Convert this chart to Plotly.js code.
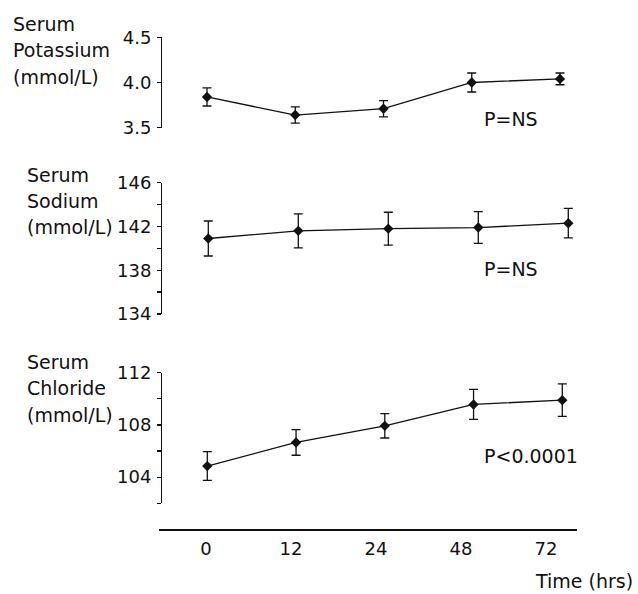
<!DOCTYPE html>
<html>
<head>
<meta charset="utf-8">
<script src="https://cdn.plot.ly/plotly-3.0.1.min.js"></script>
<style>html,body{margin:0;padding:0;background:#fff;}#chart{width:638px;height:594px;}</style>
</head>
<body>
<div id="chart"></div>
<script>
// Data
const timeLabels = ['0', '12', '24', '48', '72'];
const potassiumMean = [3.84, 3.64, 3.71, 4.00, 4.04];
const potassiumErr  = [0.10, 0.09, 0.09, 0.105, 0.065];
const sodiumMean = [140.9, 141.6, 141.8, 141.9, 142.3];
const sodiumErr  = [1.6, 1.55, 1.5, 1.45, 1.35];
const chlorideMean = [104.85, 106.66, 107.93, 109.57, 109.9];
const chlorideErr  = [1.1, 0.98, 0.93, 1.15, 1.25];
const potassiumTitle = ['Serum', 'Potassium', '(mmol/L)'];
const sodiumTitle = ['Serum', 'Sodium', '(mmol/L)'];
const chlorideTitle = ['Serum', 'Chloride', '(mmol/L)'];
const pLabels = ['P=NS', 'P=NS', 'P<0.0001'];
const xTitle = 'Time (hrs)';

const FONT = 'DejaVu Sans, Arial, sans-serif';
const INK = '#111';
const W = 638, H = 594;
const fx = px => px / W;
const fy = py => 1 - py / H;

function series(y, err, xa, ya) {
  return {
    x: timeLabels, y: y, xaxis: xa, yaxis: ya,
    type: 'scatter', mode: 'lines+markers',
    line: {color: INK, width: 1.3},
    marker: {symbol: 'diamond', size: 8, color: INK},
    error_y: {type: 'data', array: err, visible: true, color: INK, thickness: 1.3, width: 4.5},
    hoverinfo: 'skip', showlegend: false
  };
}

const traces = [
  series(potassiumMean, potassiumErr, 'x', 'y'),
  series(sodiumMean, sodiumErr, 'x2', 'y2'),
  series(chlorideMean, chlorideErr, 'x3', 'y3'),
  {x: timeLabels, y: timeLabels.map(() => 0), xaxis: 'x4', yaxis: 'y4', type: 'scatter', mode: 'markers',
   marker: {opacity: 0}, hoverinfo: 'skip', showlegend: false}
];

function hiddenX(anchor, offset, step) {
  return {type: 'category', visible: false, domain: [0, 1], anchor: anchor,
          range: [-offset / step, (W - offset) / step], fixedrange: true};
}
function yAx(range, dom, extra) {
  return Object.assign({
    range: range, domain: dom, anchor: 'free', position: fx(161), side: 'left',
    showline: true, linecolor: INK, linewidth: 1.3, showgrid: false, zeroline: false,
    ticks: 'outside', ticklen: 4, tickwidth: 1.3, tickcolor: INK,
    tickfont: {family: FONT, size: 18, color: INK}, ticklabelstandoff: 2, fixedrange: true
  }, extra);
}

const textFont = {family: FONT, size: 19, color: INK};
function titleLines(lines, xPx, yPxs) {
  return lines.map((t, i) => ({text: t, xref: 'paper', yref: 'paper', x: fx(xPx), y: fy(yPxs[i]),
    xanchor: 'left', yanchor: 'middle', align: 'left', showarrow: false, font: textFont}));
}

const annotations = []
  .concat(titleLines(potassiumTitle, 11, [23.7, 49.5, 76.5]))
  .concat(titleLines(sodiumTitle, 25, [175, 201, 227]))
  .concat(titleLines(chlorideTitle, 25, [362, 388, 415]))
  .concat(pLabels.map((t, i) => ({text: t, xref: 'paper', yref: 'paper', x: fx(482), y: fy([119, 269, 456][i]),
    xanchor: 'left', yanchor: 'middle', showarrow: false, font: textFont})))
  .concat([{text: xTitle, xref: 'paper', yref: 'paper', x: fx(533), y: fy(594), xanchor: 'left', yanchor: 'bottom',
    showarrow: false, font: textFont}]);

const layout = {
  width: W, height: H,
  margin: {l: 0, r: 0, t: 0, b: 0},
  paper_bgcolor: '#fff', plot_bgcolor: 'rgba(0,0,0,0)',
  showlegend: false,
  font: {family: FONT, color: INK},
  xaxis: hiddenX('y', 207, 88.25),
  xaxis2: hiddenX('y2', 208.3, 90),
  xaxis3: hiddenX('y3', 207.3, 88.75),
  xaxis4: {type: 'category', domain: [fx(159.3), fx(577.3)], anchor: 'y4',
           range: [-(206 - 159.3) / 85, -(206 - 159.3) / 85 + 418 / 85],
           showline: true, linecolor: INK, linewidth: 1.5, ticks: '', showgrid: false, zeroline: false,
           tickfont: {family: FONT, size: 18, color: INK}, ticklabelstandoff: 3, fixedrange: true},
  yaxis: yAx([3.5, 4.5], [fy(127.7), fy(37.3)], {tick0: 3.5, dtick: 0.5, tickformat: '.1f'}),
  yaxis2: yAx([134, 146], [fy(314), fy(182.7)], {tick0: 134, dtick: 4,
           minor: {tick0: 134, dtick: 2, ticks: 'outside', ticklen: 4, tickwidth: 1.3, tickcolor: INK, showgrid: false}}),
  yaxis3: yAx([102, 112], [fy(503.3), fy(372.7)], {tick0: 104, dtick: 4,
           minor: {tick0: 102, dtick: 2, ticks: 'outside', ticklen: 4, tickwidth: 1.3, tickcolor: INK, showgrid: false}}),
  yaxis4: {visible: false, domain: [fy(529.3), fy(520)], anchor: 'x4', range: [1, 2], fixedrange: true},
  annotations: annotations
};

Plotly.newPlot('chart', traces, layout, {staticPlot: true, displayModeBar: false});
</script>
</body>
</html>
